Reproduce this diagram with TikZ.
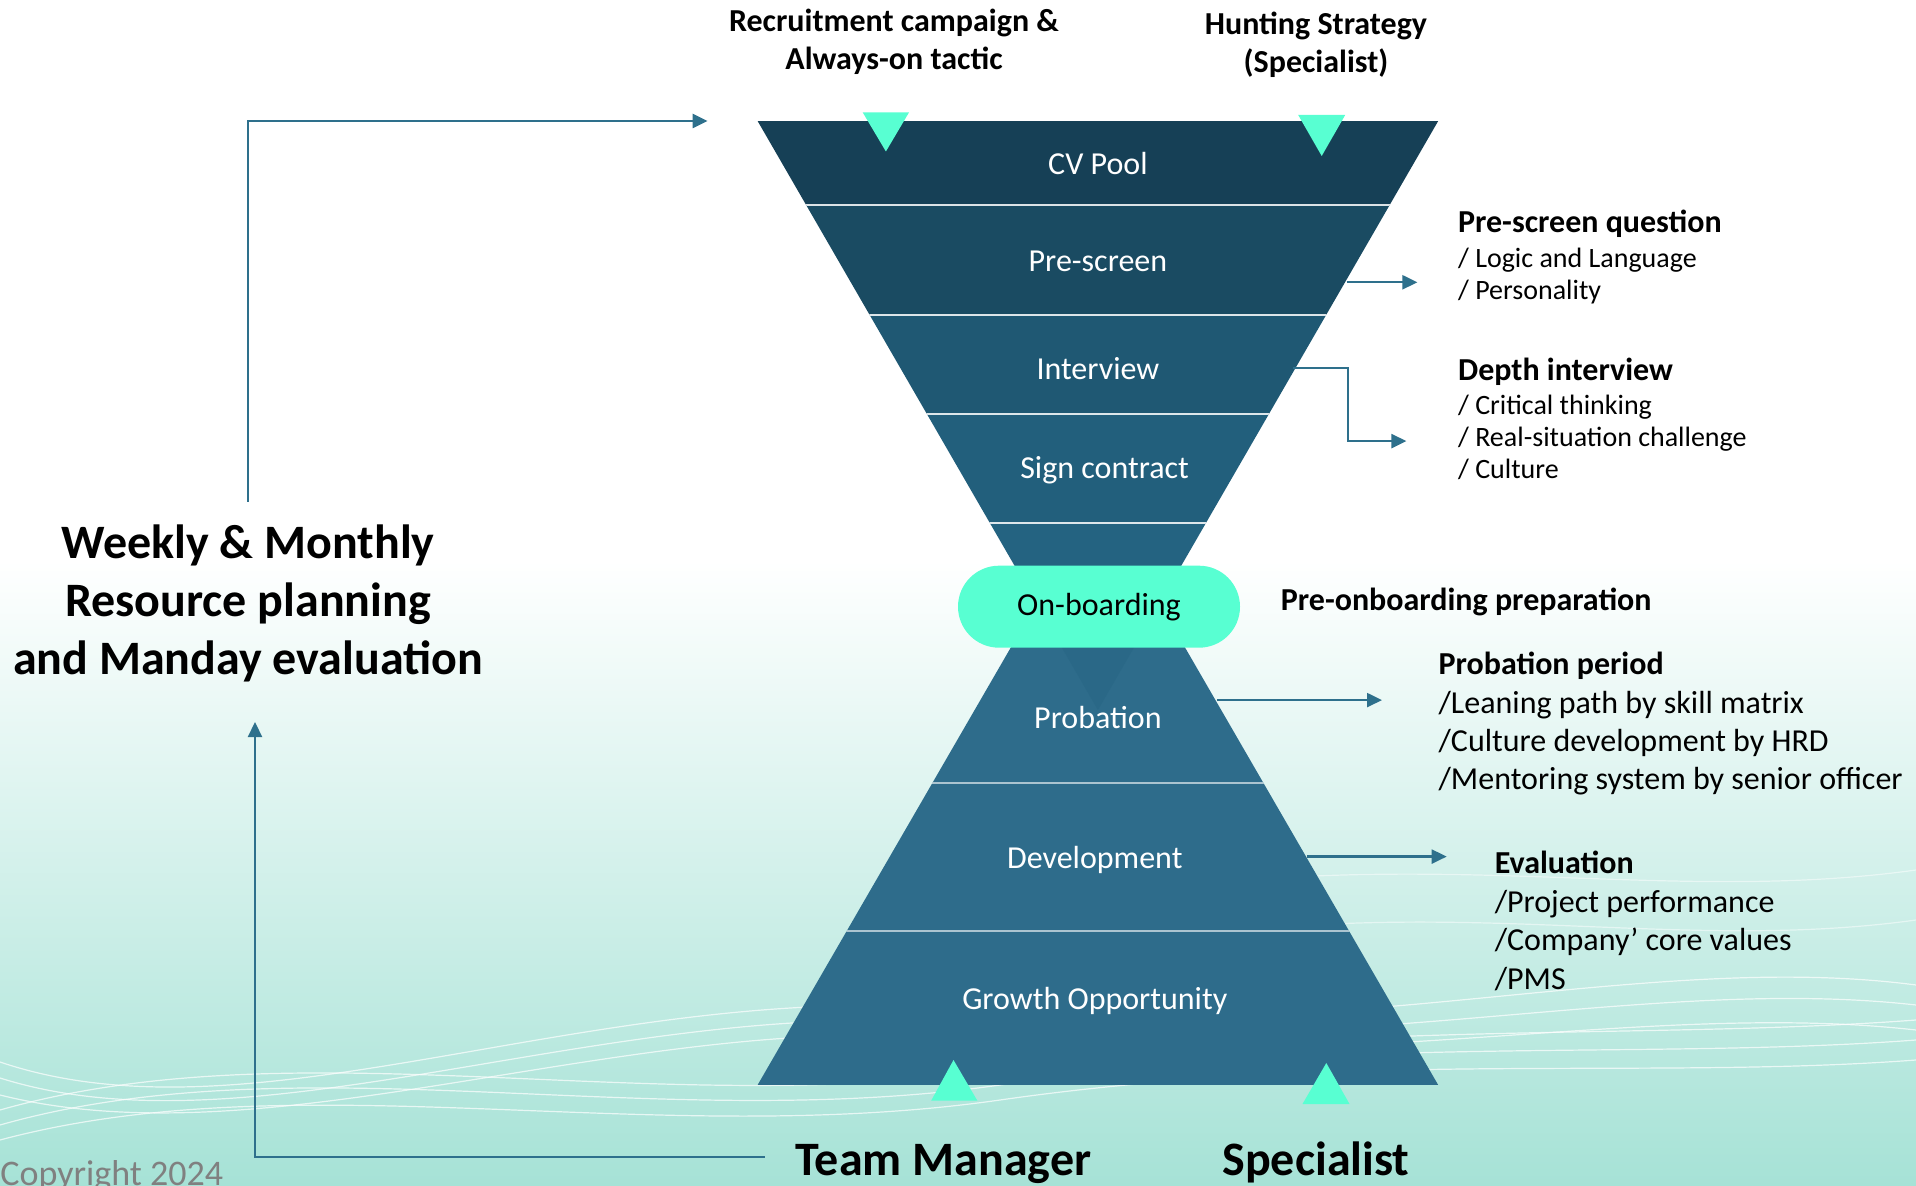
\documentclass[tikz,border=0pt]{standalone}
\usepackage{fontspec}
\setmainfont{Carlito}
\usepackage{tikz}
\usetikzlibrary{arrows.meta}

\definecolor{bandA}{RGB}{22,64,86}
\definecolor{bandB}{RGB}{26,75,98}
\definecolor{bandC}{RGB}{31,88,115}
\definecolor{bandD}{RGB}{34,95,124}
\definecolor{bandE}{RGB}{36,99,129}
\definecolor{pyramid}{RGB}{46,108,139}
\definecolor{linkblue}{RGB}{46,112,140}
\definecolor{mint}{RGB}{88,255,210}
\definecolor{seafoam}{RGB}{166,226,214}
\definecolor{copygray}{RGB}{128,128,128}

\tikzset{
	band/.style={text=white, inner sep=0pt, font=\fontsize{16}{19}\selectfont},
	divider/.style={draw=white, line width=0.8pt, opacity=0.85},
	flow/.style={draw=linkblue, line width=1.15pt, -{Triangle[length=7.5pt,width=7pt]}},
	pointer/.style={fill=mint, draw=none},
	onboard/.style={fill=mint, rounded corners=20.5pt, minimum width=141pt, minimum height=41pt, inner sep=0pt, font=\fontsize{16}{19}\selectfont},
	heading/.style={align=center, inner sep=0pt, font=\bfseries\fontsize{16}{19}\selectfont},
	plan/.style={align=center, inner sep=0pt, font=\bfseries\fontsize{24}{29}\selectfont},
	role/.style={inner sep=0pt, anchor=base, font=\bfseries\fontsize{24}{29}\selectfont},
	note/.style={align=left, inner sep=0pt, anchor=base west, font=\fontsize{14}{16}\selectfont},
	bignote/.style={align=left, inner sep=0pt, anchor=base west, font=\fontsize{16}{19.2}\selectfont},
	wave/.style={draw=white, line width=0.6pt, opacity=0.7},
}

\begin{document}
\begin{tikzpicture}[x=0.5pt, y=-0.5pt]
	\useasboundingbox (0,0) rectangle (1916,1186);
	
	% background
	\fill[white] (0,0) rectangle (1916,1186);
	\shade[top color=white, bottom color=seafoam] (0,560) rectangle (1916,1186);
	\draw[wave] (0,1062) .. controls (260,1150) and (600,975) .. (980,1010) .. controls (1350,1045) and (1650,950) .. (1916,985);
	\draw[wave] (0,1078) .. controls (260,1160) and (620,990) .. (980,1025) .. controls (1350,1060) and (1650,975) .. (1916,1005);
	\draw[wave] (0,1095) .. controls (280,1165) and (640,1005) .. (980,1040) .. controls (1350,1075) and (1650,1000) .. (1916,1030);
	\draw[wave] (0,1110) .. controls (300,1025) and (650,1120) .. (1000,1070) .. controls (1350,1020) and (1650,1040) .. (1916,1020);
	\draw[wave] (0,1125) .. controls (300,1040) and (650,1135) .. (1000,1085) .. controls (1350,1035) and (1650,1060) .. (1916,1040);
	\draw[wave] (0,1140) .. controls (300,1060) and (650,1150) .. (1000,1100) .. controls (1350,1050) and (1650,1080) .. (1916,1060);
	\draw[wave, opacity=0.5] (1250,880) .. controls (1500,860) and (1700,900) .. (1916,870);
	\draw[wave, opacity=0.5] (1250,930) .. controls (1500,905) and (1700,950) .. (1916,920);
	
	% lower pyramid
	\coordinate (BL) at (757.6,1085);
	\coordinate (BR) at (1438.2,1085);
	\coordinate (BA) at (1097.9,497);
	\begin{scope}
		\clip (BL) -- (BR) -- (BA) -- cycle;
		\fill[pyramid] (700,497) rectangle (1500,1085);
		\draw[divider, opacity=0.6] (700,783.2) -- (1500,783.2);
		\draw[divider, opacity=0.6] (700,931.1) -- (1500,931.1);
	\end{scope}
	
	% upper funnel
	\coordinate (TL) at (757.6,121);
	\coordinate (TR) at (1438.2,121);
	\coordinate (TA) at (1097.9,710);
	\begin{scope}
		\clip (TL) -- (TR) -- (TA) -- cycle;
		\fill[bandA] (700,121) rectangle (1500,205.3);
		\fill[bandB] (700,205.3) rectangle (1500,315.3);
		\fill[bandC] (700,315.3) rectangle (1500,414.2);
		\fill[bandD] (700,414.2) rectangle (1500,523);
		\fill[bandE] (700,523) rectangle (1500,620);
		\fill[bandE, opacity=0.4] (700,620) rectangle (1500,710);
		\draw[divider] (700,205.3) -- (1500,205.3);
		\draw[divider] (700,315.3) -- (1500,315.3);
		\draw[divider] (700,414.2) -- (1500,414.2);
		\draw[divider] (700,523) -- (1500,523);
	\end{scope}
	
	\node [onboard] (onb) at (1099,606.7) {On-boarding};
	
	% entry and exit markers
	\fill[pointer] (862.7,112.4) -- (909,112.4) -- (885.9,151.5) -- cycle;
	\fill[pointer] (1298.2,115) -- (1345.2,115) -- (1321.7,156) -- cycle;
	\fill[pointer] (931.2,1100.6) -- (977.3,1100.6) -- (953.5,1060) -- cycle;
	\fill[pointer] (1302.5,1104) -- (1349.5,1104) -- (1326.3,1063) -- cycle;
	
	% stage labels
	\node [band] (cv) at (1097.9,163.7) {CV Pool};
	\node [band] (ps) at (1097.9,261.5) {Pre-screen};
	\node [band] (iv) at (1097.9,369) {Interview};
	\node [band] (sc) at (1104.6,470.4) {Sign contract};
	\node [band] (pb) at (1097.9,717.3) {Probation};
	\node [band] (dv) at (1094.8,860.2) {Development};
	\node [band] (go) at (1094.8,1000.7) {Growth Opportunity};
	
	% sources and owners
	\node [heading] (recruit) at (894,42) {Recruitment campaign \&\\Always-on tactic};
	\node [heading] (hunt) at (1316,44.5) {Hunting Strategy\\(Specialist)};
	\node [plan] (plan) at (248,603) {Weekly \& Monthly\\Resource planning\\and Manday evaluation};
	\node [role] (tm) at (943.3,1175.5) {Team Manager};
	\node [role] (spec) at (1316,1175.5) {Specialist};
	\node [inner sep=0pt, anchor=base west, text=copygray, font=\fontsize{18}{21}\selectfont] (copy) at (0,1185) {Copyright 2024};
	
	% side notes (placed by the baseline of their last line)
	\node [note] (psq) at (1457.7,299.8) {{\bfseries\fontsize{16}{16}\selectfont Pre-screen question}\\[1.5pt] / Logic and Language\\ / Personality};
	\node [note] (dpi) at (1457.7,478.2) {{\bfseries\fontsize{16}{16}\selectfont Depth interview}\\[1pt] / Critical thinking\\ / Real-situation challenge\\ / Culture};
	\node [inner sep=0pt, anchor=base west, font=\bfseries\fontsize{16}{19}\selectfont] (pre) at (1280.5,610.3) {Pre-onboarding preparation};
	\node [bignote] (pbp) at (1438.2,789.9) {\textbf{Probation period}\\/Leaning path by skill matrix\\/Culture development by HRD\\/Mentoring system by senior officer};
	\node [bignote] (evl) at (1494.4,989.1) {\textbf{Evaluation}\\/Project performance\\/Company’ core values\\/PMS};
	
	% connectors
	\coordinate (psout) at (1346.6,282.3);
	\coordinate (psin) at (1417.4,282.3);
	\coordinate (ivout) at (1292.8,367.8);
	\coordinate (ivin) at (1406.4,441.1);
	\coordinate (pbout) at (1217,700.1);
	\coordinate (pbin) at (1382,700.1);
	\coordinate (dvout) at (1307.4,856.6);
	\coordinate (dvin) at (1446.7,856.6);
	
	\draw [flow] (psout) to (psin);
	\draw [flow] (ivout) -- (1347.8,367.8) |- (ivin);
	\draw [flow] (pbout) to (pbin);
	\draw [flow] (dvout) to (dvin);
	
	\draw [flow, shorten <=11pt, shorten >=25pt] (plan.north) |- (TL);
	\draw [flow, shorten <=15pt, shorten >=20pt] ([yshift=3.5pt]tm.west) -| ([xshift=3.5pt]plan.south);
\end{tikzpicture}
\end{document}
